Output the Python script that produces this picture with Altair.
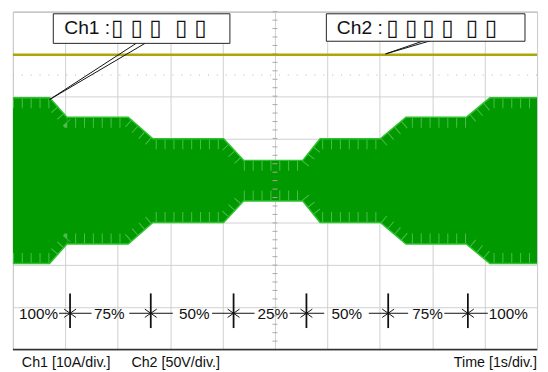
import altair as alt
import pandas as pd

# ---------------- data ----------------
# Ch1 (current) envelope: peak amplitude in A at breakpoints in time (s)
env_time = [0, 0.70, 1.03, 2.20, 2.67, 4.02, 4.40, 5.53, 5.86, 7.01, 7.50, 8.65, 9.10, 10]
env_peak_A = [19.6, 19.6, 15.0, 15.0, 9.9, 9.9, 4.8, 4.8, 9.9, 9.9, 15.0, 15.0, 19.6, 19.6]

# Ch2 (voltage) trace
ch2_time = [0, 10]
ch2_volt = [149, 149]

A_PER_DIV = 10
V_PER_DIV = 50

# step annotation along the bottom
step_labels = ["100%", "75%", "50%", "25%", "50%", "75%", "100%"]
step_label_t = [0.49, 1.84, 3.46, 4.96, 6.37, 7.91, 9.45]
marker_t = [1.09, 2.63, 4.21, 5.60, 7.16, 8.68]
shaft_left_t = [0.88, 2.22, 3.80, 5.28, 6.79, 8.23]
shaft_right_t = [1.50, 3.05, 4.61, 5.94, 7.54, 9.06]

# callout boxes
box_names = ["Ch1 :", "Ch2 :"]
box_x1 = [0.77, 5.98]
box_x2 = [4.14, 9.77]
box_y1 = [3.95, 3.95]
box_y2 = [3.25, 3.30]
box_text_t = [0.98, 6.18]
box_text_y = [3.60, 3.62]
tofu_t = [1.99, 2.36, 2.72, 3.21, 3.58, 7.24, 7.60, 7.93, 8.29, 8.76, 9.12]
tofu_y = [3.60] * 5 + [3.62] * 6

# leader lines (x, y) -> (x2, y2)
lead_x1 = [2.35, 2.52, 7.86, 7.99]
lead_y1 = [3.25, 3.25, 3.32, 3.32]
lead_x2 = [0.70, 0.70, 7.11, 7.11]
lead_y2 = [1.92, 1.92, 3.00, 3.00]

# footer texts
foot_text = ["Ch1 [10A/div.]", "Ch2 [50V/div.]", "Time [1s/div.]"]
foot_t = [0.17, 2.26, 10.0]
foot_align = ["left", "left", "right"]

# screen grid
grid_x = list(range(0, 11))
grid_y = list(range(-4, 5))
center_ticks_y = [round(-4 + 0.2 * i, 2) for i in range(41)]

# ---------------- scales / helpers ----------------
xs = alt.Scale(domain=[0, 10], nice=False, zero=False)
ys = alt.Scale(domain=[-4, 4], nice=False, zero=False)
xaxis = alt.Axis(values=grid_x, grid=True, labels=False, ticks=False, domain=False,
                 gridColor="#cfcfcf", gridWidth=1, title=None)
yaxis = alt.Axis(values=grid_y, grid=True, labels=False, ticks=False, domain=False,
                 gridColor="#cfcfcf", gridWidth=1, title=None)


def X(f):
    return alt.X(f, type="quantitative", scale=xs, axis=xaxis, title=None)


def Y(f):
    return alt.Y(f, type="quantitative", scale=ys, axis=yaxis, title=None)


FONT = "Liberation Sans"

# ---------------- layers ----------------
env_df = pd.DataFrame({"t": env_time, "peak": env_peak_A})
env = alt.Chart(env_df).transform_calculate(
    up=f"datum.peak / {A_PER_DIV}", lo=f"-datum.peak / {A_PER_DIV}",
    up_in=f"datum.peak / {A_PER_DIV} - 0.13", lo_in=f"-datum.peak / {A_PER_DIV} + 0.13",
)
area = env.mark_area(color="#009a00", opacity=1).encode(x=X("t"), y=Y("up"), y2=alt.Y2("lo"))
# faint sample streaks near the envelope edges
streak_up = env.mark_line(color="#b0e4b0", strokeWidth=10, strokeDash=[1, 8], opacity=0.45).encode(
    x=X("t"), y=Y("up_in"))
streak_lo = env.mark_line(color="#b0e4b0", strokeWidth=10, strokeDash=[1, 8], opacity=0.45).encode(
    x=X("t"), y=Y("lo_in"))
edge_up = env.mark_line(color="#2fc22f", strokeWidth=1.5).encode(x=X("t"), y=Y("up"))
edge_lo = env.mark_line(color="#2fc22f", strokeWidth=1.5).encode(x=X("t"), y=Y("lo"))

ch2_df = pd.DataFrame({"t": ch2_time, "v": ch2_volt})
ch2 = alt.Chart(ch2_df).transform_calculate(y=f"datum.v / {V_PER_DIV}").mark_line(
    color="#aca60a", strokeWidth=2.5
).encode(x=X("t"), y=Y("y"))

dot_df = pd.DataFrame({"y": [2.5]})
dotted = alt.Chart(dot_df).mark_rule(color="#b5b5b5", strokeDash=[1, 8], strokeWidth=1).encode(y=Y("y"))

ct_df = pd.DataFrame({"t": [5.0] * len(center_ticks_y), "y": center_ticks_y})
cticks = alt.Chart(ct_df).mark_point(shape="stroke", size=25, color="#a8a8a8", strokeWidth=1, opacity=1).encode(
    x=X("t"), y=Y("y"))

bottom_df = pd.DataFrame({"y": [-4]})
bottom_line = alt.Chart(bottom_df).mark_rule(color="#333333", strokeWidth=1.5).encode(y=Y("y"))

box_df = pd.DataFrame({"x1": box_x1, "x2": box_x2, "y1": box_y1, "y2": box_y2})
boxes = alt.Chart(box_df).mark_rect(fill="white", stroke="#222222", strokeWidth=1).encode(
    x=X("x1"), x2=alt.X2("x2"), y=Y("y1"), y2=alt.Y2("y2"))

lead_df = pd.DataFrame({"x1": lead_x1, "y1": lead_y1, "x2": lead_x2, "y2": lead_y2})
leads = alt.Chart(lead_df).mark_rule(color="#111111", strokeWidth=1).encode(
    x=X("x1"), y=Y("y1"), x2=alt.X2("x2"), y2=alt.Y2("y2"))

btxt_df = pd.DataFrame({"t": box_text_t, "y": box_text_y, "s": box_names})
box_text = alt.Chart(btxt_df).mark_text(align="left", baseline="middle", font=FONT, fontSize=19.5,
                                        color="#111111").encode(x=X("t"), y=Y("y"), text="s:N")

tofu_df = pd.DataFrame({"t": tofu_t, "y": tofu_y, "s": ["\u25af"] * len(tofu_t)})
tofu = alt.Chart(tofu_df).mark_text(align="center", baseline="middle", font="DejaVu Sans", fontSize=23,
                                    color="#111111").encode(x=X("t"), y=Y("y"), text="s:N")

lab_df = pd.DataFrame({"t": step_label_t, "y": [-3.16] * len(step_label_t), "s": step_labels})
step_text = alt.Chart(lab_df).mark_text(align="center", baseline="middle", font=FONT, fontSize=15.5,
                                        color="#111111").encode(x=X("t"), y=Y("y"), text="s:N")

mk_df = pd.DataFrame({"t": marker_t, "y1": [-2.67] * 6, "y2": [-3.49] * 6,
                      "l": shaft_left_t, "r": shaft_right_t, "ym": [-3.14] * 6})
markers = alt.Chart(mk_df).mark_rule(color="#111111", strokeWidth=1.8).encode(
    x=X("t"), y=Y("y1"), y2=alt.Y2("y2"))
shaft_l = alt.Chart(mk_df).mark_rule(color="#111111", strokeWidth=1).encode(
    x=X("l"), x2=alt.X2("t"), y=Y("ym"))
shaft_r = alt.Chart(mk_df).mark_rule(color="#111111", strokeWidth=1).encode(
    x=X("t"), x2=alt.X2("r"), y=Y("ym"))
head_r = alt.Chart(mk_df).mark_point(shape="M -1 -0.7 L 0 0 L -1 0.7", size=144, filled=False,
                                     color="#111111", strokeWidth=1, opacity=1).encode(x=X("t"), y=Y("ym"))
head_l = alt.Chart(mk_df).mark_point(shape="M 1 -0.7 L 0 0 L 1 0.7", size=144, filled=False,
                                     color="#111111", strokeWidth=1, opacity=1).encode(x=X("t"), y=Y("ym"))

foot_df = pd.DataFrame({"t": foot_t, "y": [-4.33] * 3, "s": foot_text, "a": foot_align})
foot_l = alt.Chart(foot_df).transform_filter("datum.a == 'left'").mark_text(
    align="left", baseline="middle", font=FONT, fontSize=14.5, color="#111111").encode(
    x=X("t"), y=Y("y"), text="s:N")
foot_r = alt.Chart(foot_df).transform_filter("datum.a == 'right'").mark_text(
    align="right", baseline="middle", font=FONT, fontSize=14.5, color="#111111").encode(
    x=X("t"), y=Y("y"), text="s:N")

chart = alt.layer(
    area, streak_up, streak_lo, edge_up, edge_lo, dotted, cticks, ch2, bottom_line,
    leads, boxes, box_text, tofu,
    markers, shaft_l, shaft_r, head_r, head_l, step_text,
    foot_l, foot_r,
).properties(
    width=532, height=343,
    autosize=alt.AutoSizeParams(type="none"),
    padding={"left": 5, "top": 1, "right": 3, "bottom": 20},
    background="white",
).configure_view(stroke="#9a9a9a", strokeWidth=1)

chart.save("out.html", embed_options={"renderer": "svg", "actions": False})
